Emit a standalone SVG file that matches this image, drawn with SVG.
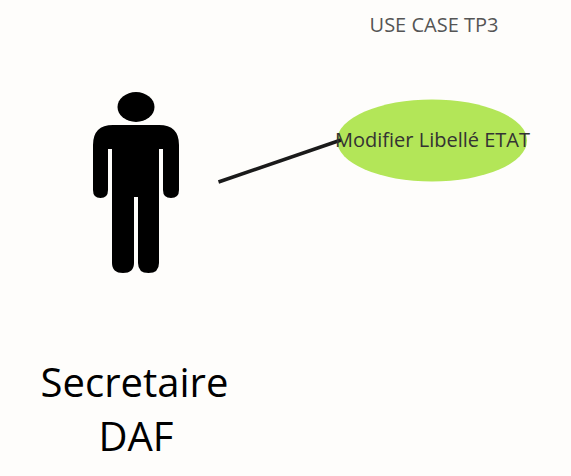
<svg xmlns="http://www.w3.org/2000/svg" width="571" height="476" viewBox="0 0 571 476">
<style>text{font-family:"Open Sans","Noto Sans",sans-serif;text-anchor:middle}</style>
<rect width="571" height="476" fill="#fefdfb"/>
<text id="title" x="434" y="32" font-size="20" fill="#555">USE CASE TP3</text>
<g id="actor">
<ellipse cx="136" cy="107" rx="18.500" ry="15" fill="#000"/>
<path d="M113 125H159Q179 125 179 145V190Q179 198 171 198Q163 198 163 190V149H159V263Q159 273 148.500 273Q138 273 138 263V197H134V263Q134 273 123 273Q112 273 112 263V149H108V190Q108 198 100.500 198Q93 198 93 190V145Q93 125 113 125Z" fill="#000"/>
<text x="134.500" y="397" font-size="40" fill="#000">Secretaire</text>
<text x="136" y="451" font-size="40" fill="#000">DAF</text>
</g>
<g id="usecase">
<ellipse cx="432" cy="140.500" rx="95" ry="41" fill="#b3e658"/>
</g>
<g id="connectors"><line x1="218.500" y1="182" x2="341" y2="140" stroke="#1a1a1a" stroke-width="3.500"/></g>
<text id="usecase-label" x="432.500" y="147" font-size="20" fill="#333">Modifier Libellé ETAT</text>
</svg>
